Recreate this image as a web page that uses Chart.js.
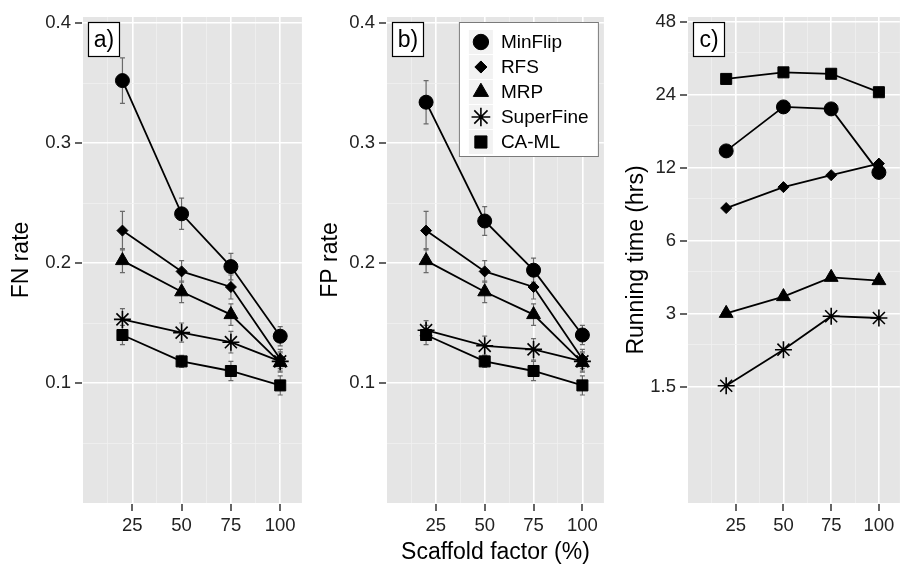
<!DOCTYPE html>
<html><head><meta charset="utf-8">
<script src="https://cdn.jsdelivr.net/npm/chart.js@4/dist/chart.umd.min.js"></script>
<style>
html,body{margin:0;padding:0;background:#fff;width:905px;height:566px;overflow:hidden;position:relative}
canvas{position:absolute;top:0}
</style></head><body>
<canvas id="ca" width="312" height="566" style="left:0px"></canvas>
<canvas id="cb" width="314" height="566" style="left:300px"></canvas>
<canvas id="cc" width="310" height="566" style="left:600px"></canvas>
<script>
// ---------- data ----------
const scaffold = [20, 50, 75, 100];
const methods = ['MinFlip', 'RFS', 'MRP', 'SuperFine', 'CA-ML'];

const fnMinFlip   = [0.352, 0.241, 0.197, 0.139];
const fnRFS       = [0.227, 0.193, 0.180, 0.120];
const fnMRP       = [0.202, 0.176, 0.157, 0.117];
const fnSuperFine = [0.153, 0.142, 0.134, 0.118];
const fnCAML      = [0.140, 0.118, 0.110, 0.098];

const fnErrMinFlip   = [0.019, 0.013, 0.011, 0.008];
const fnErrRFS       = [0.016, 0.009, 0.010, 0.008];
const fnErrMRP       = [0.010, 0.009, 0.009, 0.008];
const fnErrSuperFine = [0.009, 0.008, 0.009, 0.008];
const fnErrCAML      = [0.008, 0.005, 0.008, 0.008];

const fpMinFlip   = [0.334, 0.235, 0.194, 0.140];
const fpRFS       = [0.227, 0.193, 0.180, 0.120];
const fpMRP       = [0.202, 0.176, 0.157, 0.117];
const fpSuperFine = [0.144, 0.131, 0.128, 0.118];
const fpCAML      = [0.140, 0.118, 0.110, 0.098];

const fpErrMinFlip   = [0.018, 0.012, 0.010, 0.008];
const fpErrRFS       = [0.016, 0.009, 0.010, 0.008];
const fpErrMRP       = [0.010, 0.009, 0.009, 0.008];
const fpErrSuperFine = [0.008, 0.008, 0.009, 0.008];
const fpErrCAML      = [0.008, 0.005, 0.008, 0.008];

const timeMinFlip   = [14.1, 21.4, 21.0, 11.5];
const timeRFS       = [8.2, 10.0, 11.2, 12.5];
const timeMRP       = [3.02, 3.54, 4.25, 4.12];
const timeSuperFine = [1.52, 2.14, 2.94, 2.89];
const timeCAML      = [27.9, 29.7, 29.3, 24.6];

const xMajorTicks = [25, 50, 75, 100];
const xMinorTicks = [12.5, 37.5, 62.5, 87.5];
const rateMajorTicks = [0.1, 0.2, 0.3, 0.4];
const rateMinorTicks = [0.05, 0.15, 0.25, 0.35];
const timeMajorTicks = [1.5, 3, 6, 12, 24, 48];
const timeMinorTicks = [2.25, 4.5, 9, 18, 36];

// ---------- styling ----------
const FONT = '"Liberation Sans", Arial, Helvetica, sans-serif';
Chart.defaults.font.family = FONT;
const styles = [
  {pointStyle: 'circle',  pointRadius: 7,   pointBorderWidth: 1},
  {pointStyle: 'rectRot', pointRadius: 5.5, pointBorderWidth: 1},
  {pointStyle: 'triangle',pointRadius: 8,   pointBorderWidth: 1},
  {pointStyle: 'star',    pointRadius: 8.5, pointBorderWidth: 1.6},
  {pointStyle: 'rect',    pointRadius: 7.8, pointBorderWidth: 1}
];

function makeDatasets(series, errs) {
  return series.map((vals, i) => ({
    label: methods[i],
    data: scaffold.map((x, j) => ({x: x, y: vals[j]})),
    errors: errs ? errs[i] : null,
    borderColor: '#000',
    borderWidth: 1.8,
    backgroundColor: '#000',
    pointBackgroundColor: '#000',
    pointBorderColor: '#000',
    pointStyle: styles[i].pointStyle,
    pointRadius: styles[i].pointRadius,
    pointBorderWidth: styles[i].pointBorderWidth,
    tension: 0,
    fill: false
  }));
}

const bgPlugin = {
  id: 'panelBg',
  beforeDraw(chart) {
    const a = chart.chartArea, ctx = chart.ctx;
    ctx.save(); ctx.fillStyle = '#E5E5E5';
    ctx.fillRect(a.left, a.top, a.right - a.left, a.bottom - a.top);
    ctx.restore();
  }
};

const errPlugin = {
  id: 'errBars',
  beforeDatasetsDraw(chart) {
    const ctx = chart.ctx, xs = chart.scales.x, ys = chart.scales.y;
    ctx.save(); ctx.strokeStyle = '#6a6a6a'; ctx.lineWidth = 1.2;
    chart.data.datasets.forEach(ds => {
      if (!ds.errors) return;
      ds.data.forEach((p, j) => {
        const e = ds.errors[j];
        const px = xs.getPixelForValue(p.x);
        const y1 = ys.getPixelForValue(p.y - e), y2 = ys.getPixelForValue(p.y + e);
        ctx.beginPath();
        ctx.moveTo(px, y1); ctx.lineTo(px, y2);
        ctx.moveTo(px - 2.5, y1); ctx.lineTo(px + 2.5, y1);
        ctx.moveTo(px - 2.5, y2); ctx.lineTo(px + 2.5, y2);
        ctx.stroke();
      });
    });
    ctx.restore();
  }
};

// tick marks (outside the panel) at the major breaks, placed through the scales
const tickMarkPlugin = {
  id: 'tickMarks',
  afterDraw(chart, args, opts) {
    const ctx = chart.ctx, a = chart.chartArea, xs = chart.scales.x, ys = chart.scales.y;
    ctx.save(); ctx.strokeStyle = '#333'; ctx.lineWidth = 1.5;
    ctx.beginPath();
    opts.xMajors.forEach(v => {
      const px = Math.round(xs.getPixelForValue(v));
      ctx.moveTo(px, a.bottom + 1); ctx.lineTo(px, a.bottom + 8);
    });
    opts.yMajors.forEach(v => {
      const py = Math.round(ys.getPixelForValue(v));
      ctx.moveTo(a.left - 8, py); ctx.lineTo(a.left - 1, py);
    });
    ctx.stroke();
    ctx.restore();
  }
};

const overlayPlugin = {
  id: 'overlay',
  afterDatasetsDraw(chart, args, opts) {
    const ctx = chart.ctx, a = chart.chartArea;
    ctx.save();
    const lx = a.left + 5, ly = a.top + 5, lw = 32, lh = 35;
    ctx.fillStyle = '#fff'; ctx.fillRect(lx, ly, lw, lh);
    ctx.strokeStyle = '#000'; ctx.lineWidth = 1.2; ctx.strokeRect(lx + 0.5, ly + 0.5, lw - 1, lh - 1);
    ctx.fillStyle = '#000'; ctx.font = '23px ' + FONT; ctx.textAlign = 'center'; ctx.textBaseline = 'middle';
    ctx.fillText(opts.label, lx + lw / 2, ly + lh / 2 + 1);
    if (opts.legend) {
      const bw = 140, bh = 135, bx = a.right - 5 - bw, by = a.top + 5;
      ctx.fillStyle = '#fff'; ctx.fillRect(bx, by, bw, bh);
      ctx.strokeStyle = '#7a7a7a'; ctx.lineWidth = 1; ctx.strokeRect(bx + 0.5, by + 0.5, bw - 1, bh - 1);
      chart.data.datasets.forEach((ds, i) => {
        const cy = by + 20 + i * 25;
        const kx = bx + 10;
        ctx.fillStyle = '#F2F2F2'; ctx.fillRect(kx, cy - 12, 24, 24);
        ctx.fillStyle = '#000'; ctx.strokeStyle = '#000'; ctx.lineWidth = ds.pointBorderWidth;
        Chart.helpers.drawPoint(ctx, {pointStyle: ds.pointStyle, radius: ds.pointRadius * 1.1,
          borderWidth: ds.pointBorderWidth, rotation: 0}, kx + 12, cy);
        ctx.fillStyle = '#000'; ctx.font = '19px ' + FONT; ctx.textAlign = 'left'; ctx.textBaseline = 'middle';
        ctx.fillText(ds.label, bx + 42, cy + 1);
      });
    }
    ctx.restore();
  }
};

function gridOpts(majors) {
  return {
    color: c => (c.tick && majors.includes(c.tick.value)) ? '#ffffff' : '#F0F0F0',
    lineWidth: c => (c.tick && majors.includes(c.tick.value)) ? 1.6 : 0.8,
    tickColor: 'rgba(0,0,0,0)',
    tickLength: 8,
    drawTicks: true
  };
}

function xAxis(showTitle, xmax) {
  const all = xMajorTicks.concat(xMinorTicks).sort((a, b) => a - b);
  return {
    type: 'linear', min: 0, max: xmax,
    afterBuildTicks: s => { s.ticks = all.map(v => ({value: v})); },
    afterFit: s => { s.height = 63; },
    ticks: {autoSkip: false, maxRotation: 0, color: '#222', font: {size: 18.5}, padding: 4,
      callback: v => xMajorTicks.includes(v) ? String(v) : ''},
    grid: gridOpts(xMajorTicks),
    border: {display: false},
    title: {display: showTitle, text: 'Scaffold factor (%)', color: '#000', font: {size: 23}, padding: {top: 0, bottom: 0}}
  };
}

function yAxis(type, min, max, majors, minors, fmt, title, width, tpad) {
  const all = majors.concat(minors).sort((a, b) => a - b);
  return {
    type: type, min: min, max: max,
    afterBuildTicks: s => { s.ticks = all.map(v => ({value: v})); },
    afterFit: s => { s.width = width; },
    ticks: {autoSkip: false, color: '#222', font: {size: 18.5}, padding: 4,
      callback: v => majors.includes(v) ? fmt(v) : ''},
    grid: gridOpts(majors),
    border: {display: false},
    title: {display: true, text: title, color: '#000', font: {size: 23}, padding: {top: tpad, bottom: 0}}
  };
}

function makeChart(id, datasets, yopts, yMajors, showXTitle, xmax, label, legend, padRight) {
  return new Chart(document.getElementById(id), {
    type: 'line',
    data: {datasets: datasets},
    options: {
      responsive: false, animation: false, devicePixelRatio: 1,
      layout: {padding: {top: 17, right: padRight, left: 0, bottom: 0}},
      scales: {x: xAxis(showXTitle, xmax), y: yopts},
      plugins: {legend: {display: false}, tooltip: {enabled: false},
        overlay: {label: label, legend: legend},
        tickMarks: {xMajors: xMajorTicks, yMajors: yMajors}}
    },
    plugins: [bgPlugin, errPlugin, overlayPlugin, tickMarkPlugin]
  });
}

makeChart('ca',
  makeDatasets([fnMinFlip, fnRFS, fnMRP, fnSuperFine, fnCAML],
    [fnErrMinFlip, fnErrRFS, fnErrMRP, fnErrSuperFine, fnErrCAML]),
  yAxis('linear', 0, 0.405, rateMajorTicks, rateMinorTicks, v => v.toFixed(1), 'FN rate', 83, 8),
  rateMajorTicks, false, 111, 'a)', false, 2);

makeChart('cb',
  makeDatasets([fpMinFlip, fpRFS, fpMRP, fpSuperFine, fpCAML],
    [fpErrMinFlip, fpErrRFS, fpErrMRP, fpErrSuperFine, fpErrCAML]),
  yAxis('linear', 0, 0.405, rateMajorTicks, rateMinorTicks, v => v.toFixed(1), 'FP rate', 87, 17),
  rateMajorTicks, true, 111, 'b)', true, 2);

makeChart('cc',
  makeDatasets([timeMinFlip, timeRFS, timeMRP, timeSuperFine, timeCAML], null),
  yAxis('logarithmic', 0.5, 50.2, timeMajorTicks, timeMinorTicks, v => String(v), 'Running time (hrs)', 88, 23),
  timeMajorTicks, false, 111, 'c)', false, 0);
</script>
</body></html>
